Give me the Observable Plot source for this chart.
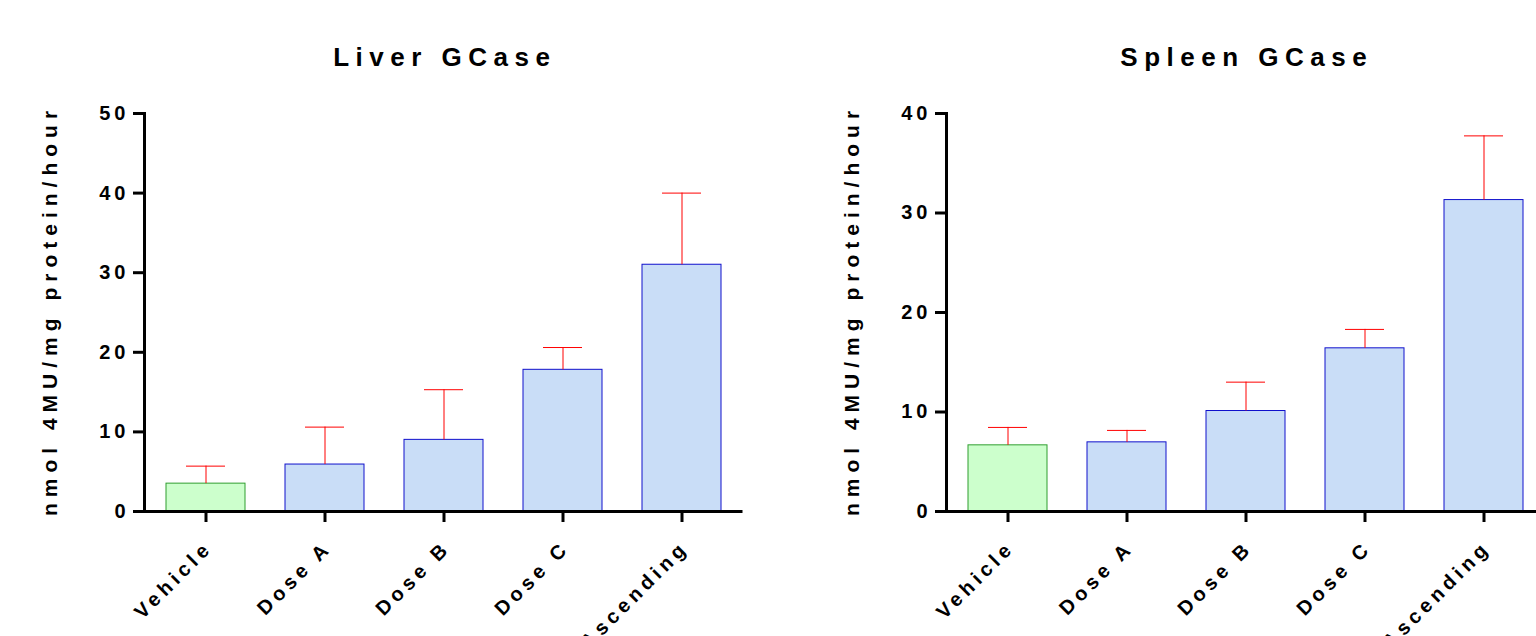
<!DOCTYPE html>
<html>
<head>
<meta charset="utf-8">
<script src="https://cdn.jsdelivr.net/npm/d3@7"></script>
<script src="https://cdn.jsdelivr.net/npm/@observablehq/plot@0.6"></script>
<style>
  html, body { margin: 0; padding: 0; background: #fff; }
  #wrap { position: relative; width: 1536px; height: 636px; overflow: hidden; }
  #left { position: absolute; left: 0; top: 0; width: 800px; }
  #right { position: absolute; left: 800px; top: 0; width: 800px; }
  #wrap svg { max-width: none !important; font-family: "Liberation Sans", Arial, sans-serif; }
</style>
</head>
<body>
<div id="wrap"><div id="left"></div><div id="right"></div></div>
<script>
// ---- data ----
const categories = ["Vehicle", "Dose A", "Dose B", "Dose C", "Ascending"];
const liverMean = [3.5, 5.9, 9.0, 17.8, 31.0];
const liverErr  = [2.2, 4.7, 6.3, 2.8, 9.0];
const spleenMean = [6.65, 6.95, 10.1, 16.4, 31.3];
const spleenErr  = [1.8, 1.2, 2.9, 1.9, 6.45];
const liverTicks = [0, 10, 20, 30, 40, 50];
const spleenTicks = [0, 10, 20, 30, 40];
const titles = ["Liver GCase", "Spleen GCase"];
const yLabel = "nmol 4MU/mg protein/hour";

const GREEN_FILL = "#ccffcc", GREEN_STROKE = "#2f9e2f";
const BLUE_FILL = "#c9ddf7", BLUE_STROKE = "#1010cc";

function panel(title, means, errs, ticks, yMax, marginLeft) {
  const data = categories.map((c, i) => ({cat: c, mean: means[i], top: means[i] + errs[i]}));
  const W = 800;
  const range = 598.5;
  const svg = Plot.plot({
    width: W, height: 636,
    marginLeft: marginLeft, marginRight: W - marginLeft - range,
    marginTop: 113, marginBottom: 125,
    style: {maxWidth: "none", fontFamily: "Liberation Sans, Arial, sans-serif"},
    x: {domain: categories, paddingInner: 0.332, paddingOuter: 0.166, axis: null},
    y: {domain: [0, yMax], axis: null},
    marks: [
      Plot.barY(data, {filter: d => d.cat === "Vehicle", x: "cat", y: "mean", fill: GREEN_FILL, stroke: GREEN_STROKE, strokeWidth: 1}),
      Plot.barY(data, {filter: d => d.cat !== "Vehicle", x: "cat", y: "mean", fill: BLUE_FILL, stroke: BLUE_STROKE, strokeWidth: 1}),
      Plot.ruleX(data, {x: "cat", y1: "mean", y2: "top", stroke: "#ff0000", strokeWidth: 1}),
      Plot.tickY(data, {x: "cat", y: "top", stroke: "#ff0000", strokeWidth: 1, insetLeft: 20, insetRight: 20}),
      Plot.ruleY([0], {stroke: "#000", strokeWidth: 3}),
      Plot.frame({anchor: "left", stroke: "#000", strokeWidth: 3}),
      Plot.axisY({ticks: ticks, tickSize: 11, tickPadding: 4, strokeWidth: 3, fontSize: 20, fontWeight: "bold", fill: "#000", label: null}),
      Plot.axisX({tickSize: 11, strokeWidth: 3, tickFormat: () => "", label: null}),
      Plot.text(data, {x: "cat", text: "cat", frameAnchor: "bottom", lineAnchor: "middle", rotate: -45, textAnchor: "end", dx: 3, dy: 33, fontSize: 20, fontWeight: "bold", fill: "#000"}),
      Plot.text([title], {text: d => d, frameAnchor: "top", lineAnchor: "middle", textAnchor: "middle", dy: -56, dx: 1, fontSize: 26, fontWeight: "bold", fill: "#000"}),
      Plot.text([yLabel], {text: d => d, frameAnchor: "left", lineAnchor: "middle", textAnchor: "middle", rotate: -90, dx: -94, dy: -2, fontSize: 21, fontWeight: "bold", fill: "#000"})
    ]
  });
  const s = d3.select(svg);
  s.selectAll("text").each(function() {
    const t = this.textContent;
    let sp = "4px";
    if (t === title) sp = "6.5px";
    else if (t === yLabel) sp = "6px";
    else if (categories.includes(t)) sp = "4.5px";
    d3.select(this).attr("letter-spacing", sp).style("letter-spacing", sp);
  });
  return svg;
}

document.getElementById("left").appendChild(panel(titles[0], liverMean, liverErr, liverTicks, 50, 144));
document.getElementById("right").appendChild(panel(titles[1], spleenMean, spleenErr, spleenTicks, 40, 146));
</script>
</body>
</html>
